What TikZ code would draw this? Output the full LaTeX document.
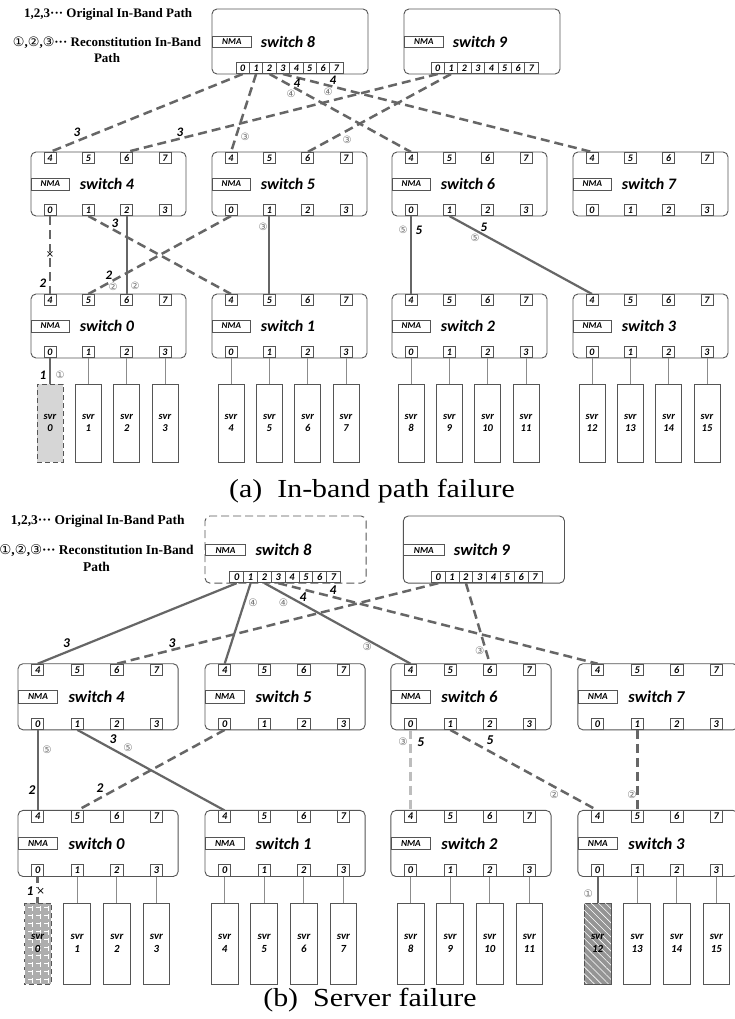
\documentclass[tikz,border=0pt]{standalone}
\usepackage{fontspec}
\usetikzlibrary{patterns.meta}
\newfontfamily\calf{Carlito}
\newfontfamily\tmsf{Liberation Serif}
\newfontfamily\djvf{DejaVu Sans}
\definecolor{lnk}{HTML}{666666}
\definecolor{bdr}{HTML}{555555}
\definecolor{thinc}{HTML}{8C8C8C}
\definecolor{lgt}{HTML}{BDBDBD}
\tikzset{
 swbox/.style={draw=bdr, line width=0.9pt, rounded corners=5pt, minimum width=155pt, minimum height=64pt, inner sep=0pt},
 topbox/.style={swbox, minimum width=156pt, minimum height=65pt},
 nma/.style={draw=bdr, fill=white, line width=0.7pt, minimum width=38pt, minimum height=12pt, inner sep=0pt, font=\calf\bfseries\itshape\fontsize{9}{9}\selectfont},
 swlabel/.style={font=\calf\bfseries\itshape\fontsize{16}{16}\selectfont, inner sep=0pt},
 port/.style={draw=bdr, fill=white, line width=0.7pt, minimum width=12pt, minimum height=11pt, inner sep=0pt, font=\calf\bfseries\itshape\fontsize{10}{10}\selectfont},
 tport/.style={port, minimum width=13.4pt},
 svr/.style={draw=bdr, fill=white, line width=0.8pt, minimum width=26pt, minimum height=78pt, inner sep=0pt, align=center, font=\calf\bfseries\itshape\fontsize{10.5}{12.5}\selectfont},
 orig/.style={draw=lnk, line width=2.5pt, dash pattern=on 9pt off 5pt},
 recon/.style={draw=lnk, line width=2.2pt, dash pattern=},
 thinl/.style={draw=thinc, line width=0.8pt},
 lbl/.style={font=\calf\bfseries\itshape\fontsize{13}{13}\selectfont, inner sep=0pt},
 circ/.style={font=\djvf\fontsize{10}{10}\selectfont, text=black!55, inner sep=0pt},
 xmk/.style={font=\djvf\fontsize{10}{10}\selectfont, inner sep=0.5pt, fill=white},
 legend/.style={font=\tmsf\bfseries\fontsize{13}{16}\selectfont, inner sep=0pt, align=center},
 caption/.style={font=\tmsf\fontsize{26}{26}\selectfont, inner sep=0pt},
 % special elements
 tbb8/.style={dash pattern=on 8pt off 4pt},
 sva0/.style={fill=black!16, dash pattern=on 5pt off 3pt},
 svb0/.style={fill=black!32, dash pattern=on 5pt off 3pt, postaction={pattern={Hatch[distance=8pt,line width=0.8pt]}, pattern color=white}},
 svb12/.style={fill=black!42, postaction={pattern={Lines[angle=-45,distance=5pt,line width=0.6pt]}, pattern color=white}},
 lka0/.style={recon},
 lkb0/.style={draw=lnk, line width=2.5pt, dash pattern=on 6pt off 4pt},
 lkb12/.style={recon},
}
% top switch: prefix, number, x0, y0, first port x
\newcommand\topsw[5]{%
 \node[topbox, tb#1#2/.try] (#1s#2) at ({#3+78},{#4+32.5}) {};
 \node[nma, anchor=west, minimum width=39pt, minimum height=11pt] (#1s#2n) at ({#3},{#4+33}) {NMA};
 \node[swlabel] (#1s#2t) at ({#3+76},{#4+33}) {switch #2};
 \foreach \kk in {0,...,7}{
   \node[tport, anchor=south] (#1s#2p\kk) at ({#5+13.4*(\kk+0.5)},{#4+65}) {\kk};
 }%
}
% middle switch: prefix, number, x0, y0
\newcommand\midsw[4]{%
 \node[swbox] (#1s#2) at ({#3+77.5},{#4+32}) {};
 \node[nma, anchor=west] (#1s#2n) at ({#3},{#4+32}) {NMA};
 \node[swlabel] (#1s#2t) at ({#3+76},{#4+32}) {switch #2};
 \foreach \kk/\qq in {0/4,1/5,2/6,3/7}{
   \node[port, anchor=north] (#1s#2p\qq) at ({#3+19+38.33*\kk},{#4}) {\qq};
   \node[port, anchor=south] (#1s#2p\kk) at ({#3+19+38.33*\kk},{#4+64}) {\kk};
 }%
}
% bottom switch with servers
\newcommand\botsw[4]{%
 \midsw{#1}{#2}{#3}{#4}%
 \foreach \kk in {0,1,2,3}{
   \pgfmathtruncatemacro\nn{4*#2+\kk}
   \node[svr, sv#1\nn/.try] (#1v\nn) at ({#3+19+38.33*\kk},423) {svr\\\nn};
   \draw[thinl, lk#1\nn/.try] (#1s#2p\kk.south) -- (#1v\nn.north);
 }%
}
\newcommand\panelnodes[1]{%
 \topsw{#1}{8}{212}{9}{236}
 \topsw{#1}{9}{404}{9}{431}
 \midsw{#1}{4}{31}{152}
 \midsw{#1}{5}{212}{152}
 \midsw{#1}{6}{392}{152}
 \midsw{#1}{7}{573}{152}
 \botsw{#1}{0}{31}{294}
 \botsw{#1}{1}{212}{294}
 \botsw{#1}{2}{392}{294}
 \botsw{#1}{3}{573}{294}
 \node[legend, anchor=west] (#1leg1) at (24,14) {1,2,3··· Original In-Band Path};
 \node[legend] (#1leg2) at (107,50) {{\djvf\mdseries ①},{\djvf\mdseries ②},{\djvf\mdseries ③}··· Reconstitution In-Band\\Path};
}
\begin{document}
\begin{tikzpicture}[x=1pt,y=-1pt]
\useasboundingbox (0,0) rectangle (735,1019);
\fill[white] (0,0) rectangle (735,1019);
% ================= panel (a)
\panelnodes{a}
\draw[orig] (as8p0.south) -- (as4p4.north);
\draw[orig] (as9p0.south) -- (as4p6.north);
\draw[orig] (as8p1.south) -- (as5p4.north);
\draw[orig] (as9p1.south) -- (as5p6.north);
\draw[orig] (as8p2.south) -- (as6p4.north);
\draw[orig] (as8p3.south) -- (as7p4.north);
\draw[orig] (as4p0.south) -- (as0p4.north);
\draw[orig] (as4p1.south) -- (as1p4.north);
\draw[recon] (as4p2.south) -- (as0p6.north);
\draw[orig] (as5p0.south) -- (as0p5.north);
\draw[recon] (as5p1.south) -- (as1p5.north);
\draw[recon] (as6p0.south) -- (as2p4.north);
\draw[recon] (as6p1.south) -- (as3p4.north);
\node[lbl] (aL1) at (77,132) {3};
\node[lbl] (aL2) at (180,132) {3};
\node[circ] (aC1) at (245,137) {③};
\node[circ] (aC2) at (347,140) {③};
\node[lbl] (aL3) at (297,83) {4};
\node[circ] (aC3) at (291,94) {④};
\node[lbl] (aL4) at (333,80) {4};
\node[circ] (aC4) at (328,92) {④};
\node[xmk] (aX1) at (50,255) {×};
\node[lbl] (aL5) at (43,283) {2};
\node[lbl] (aL6) at (115,223) {3};
\node[circ] (aC5) at (113,287) {②};
\node[lbl] (aL7) at (109,275) {2};
\node[circ] (aC6) at (135,286) {②};
\node[circ] (aC7) at (263,227) {③};
\node[circ] (aC8) at (403,230) {⑤};
\node[lbl] (aL8) at (419,230) {5};
\node[lbl] (aL9) at (484,227) {5};
\node[circ] (aC9) at (475,238) {⑤};
\node[lbl] (aL10) at (43,375) {1};
\node[circ] (aC10) at (60,375) {①};
\node[caption] (capa) at (372,491) {\scalebox{1.15}[1]{(a)\ \ In-band path failure}};
% ================= panel (b)
\begin{scope}[shift={(-14,506.7)}, scale=1.033, transform shape]
\panelnodes{b}
\draw[recon] (bs8p0.south) -- (bs4p4.north);
\draw[recon] (bs8p1.south) -- (bs5p4.north);
\draw[recon] (bs8p2.south) -- (bs6p4.north);
\draw[orig] (bs8p3.south) -- (bs7p4.north);
\draw[orig] (bs9p0.south) -- (bs4p6.north);
\draw[orig] (bs9p2.south) -- (bs6p6.north);
\draw[recon] (bs4p0.south) -- (bs0p4.north);
\draw[recon] (bs4p1.south) -- (bs1p4.north);
\draw[orig] (bs5p0.south) -- (bs0p5.north);
\draw[orig, draw=lgt] (bs6p0.south) -- (bs2p4.north);
\draw[orig] (bs6p1.south) -- (bs3p4.north);
\draw[orig] (bs7p1.south) -- (bs3p5.north);
\node[lbl] (bL1) at (78,131.6) {3};
\node[lbl] (bL2) at (180,131.6) {3};
\node[circ] (bC1) at (288,93) {④};
\node[circ] (bC2) at (258.5,93) {④};
\node[lbl] (bL3) at (307,87.5) {4};
\node[lbl] (bL4) at (336,80.7) {4};
\node[circ] (bC3) at (369,136) {③};
\node[circ] (bC4) at (478,139) {③};
\node[circ] (bC5) at (59,235) {⑤};
\node[lbl] (bL5) at (44.5,274.5) {2};
\node[lbl] (bL6) at (123,225) {3};
\node[circ] (bC6) at (137.4,233) {⑤};
\node[lbl] (bL7) at (110.4,272.5) {2};
\node[circ] (bC7) at (403.7,228) {③};
\node[lbl] (bL8) at (421,228) {5};
\node[lbl] (bL9) at (488,226) {5};
\node[circ] (bC8) at (550,278.5) {②};
\node[circ] (bC9) at (625.4,278.5) {②};
\node[lbl] (bL10) at (42.6,372.4) {1};
\node[xmk] (bX1) at (53,372.4) {×};
\node[circ] (bC10) at (583,374.3) {①};
\end{scope}
\node[caption] (capb) at (370,1000) {\scalebox{1.15}[1]{(b)\ \ Server failure}};
\end{tikzpicture}
\end{document}
